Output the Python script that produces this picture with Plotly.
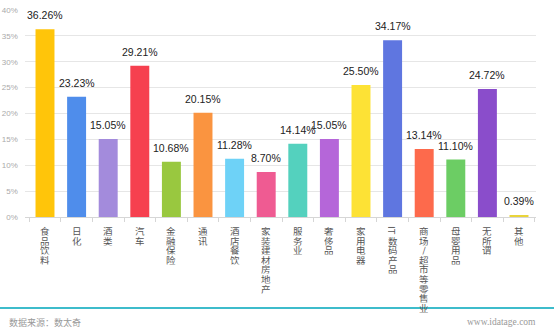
import plotly.graph_objects as go

# Share of advertisers by industry (%)
categories = ["食品饮料", "日化", "酒类", "汽车", "金融保险", "通讯", "酒店餐饮",
              "家装建材房地产", "服务业", "奢侈品", "家用电器", "IT数码产品",
              "商场/超市等零售业", "母婴用品", "无所谓", "其他"]
values = [36.26, 23.23, 15.05, 29.21, 10.68, 20.15, 11.28, 8.70,
          14.14, 15.05, 25.50, 34.17, 13.14, 11.10, 24.72, 0.39]
colors = ["#FFC50A", "#4F8DEB", "#A38BDC", "#F6404F", "#99C83F", "#FA9440",
          "#6ED2F7", "#EF5B92", "#54D1BE", "#B566D9", "#FDE235", "#5F76E0",
          "#FD6A4C", "#6CCD64", "#8A4DCB", "#E9D43A"]
y_ticks = [0, 5, 10, 15, 20, 25, 30, 35, 40]

L, R, T, B = 25, 18, 10, 114
W, H = 554, 331
pw = W - L - R
ph = H - T - B


def glyphs(label):
    # split a label into vertical glyphs, keeping "IT" together
    parts = []
    i = 0
    while i < len(label):
        if label[i:i + 2] == "IT":
            parts.append("IT")
            i += 2
        else:
            parts.append(label[i])
            i += 1
    return parts


fig = go.Figure(go.Bar(
    x=categories,
    y=values,
    marker=dict(color=colors, line=dict(width=0)),
    width=0.6,
))

# value labels above each bar
value_annotations = [
    dict(text=f"{v:.2f}%", x=c, y=v, xref="x", yref="y",
         xanchor="center", yanchor="bottom", yshift=6, showarrow=False,
         font=dict(family="Liberation Sans, Arial, sans-serif", size=10.5, color="#222"))
    for c, v in zip(categories, values)
]

# vertical category labels, one glyph per line
label_annotations = []
pitch = 9.6
for cat in categories:
    for j, g in enumerate(glyphs(cat)):
        label_annotations.append(dict(
            text=g, x=cat, xref="x", y=0, yref="paper",
            xanchor="center", yanchor="top", yshift=-(8 + j * pitch),
            height=pitch, borderpad=0, valign="middle",
            showarrow=False, textangle=90 if g == "IT" else 0,
            font=dict(size=9.5, color="#555", family="Noto Sans CJK SC, sans-serif"),
        ))

fig.update_layout(
    width=W, height=H,
    margin=dict(l=L, r=R, t=T, b=B),
    plot_bgcolor="white", paper_bgcolor="white",
    showlegend=False,
    font=dict(family="Noto Sans CJK SC, sans-serif"),
    xaxis=dict(
        tickmode="array", tickvals=categories, showticklabels=False,
        automargin=False,
        showline=True, linecolor="#d6d6d6", linewidth=1,
        ticks="outside", tickson="boundaries", ticklen=4, tickcolor="#d6d6d6",
        showgrid=False,
    ),
    yaxis=dict(
        range=[0, 40], tickvals=y_ticks,
        ticktext=[f"{t}%\u2002\u00a0" for t in y_ticks],
        automargin=False, ticks="",
        tickfont=dict(size=8, color="#aaa", family="Liberation Sans, Arial, sans-serif"),
        gridcolor="#e6e6e6", gridwidth=1, zeroline=False,
    ),
    shapes=[dict(
        type="line", xref="paper", yref="paper",
        x0=-L / pw, x1=(W - L) / pw,
        y0=-(308 - T - ph) / ph, y1=-(308 - T - ph) / ph,
        line=dict(color="#3DBCCB", width=2),
    )],
    annotations=value_annotations + label_annotations + [
        dict(text="数据来源：数太奇", xref="paper", yref="paper",
             x=-(L - 7) / pw, y=-(322 - T - ph) / ph, xanchor="left", yanchor="middle",
             showarrow=False, font=dict(size=9, color="#999")),
        dict(text="www.idatage.com", xref="paper", yref="paper",
             x=(538 - L) / pw, y=-(322 - T - ph) / ph, xanchor="right", yanchor="middle",
             showarrow=False, font=dict(size=9.5, color="#999",
                                        family="Liberation Serif, serif")),
    ],
)

fig.write_html("out.html")
